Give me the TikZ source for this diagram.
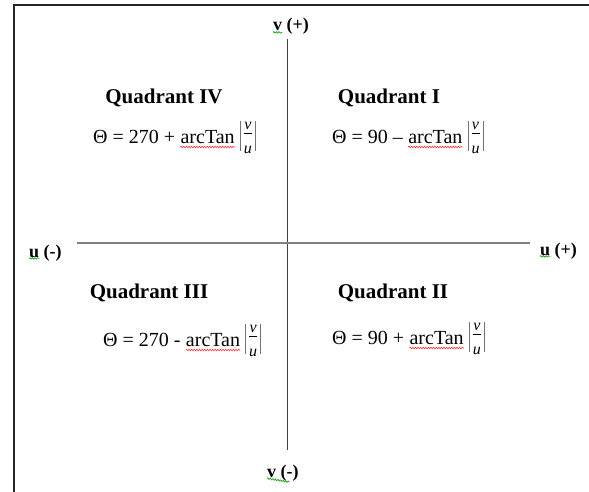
\documentclass[tikz,border=0pt]{standalone}
\usepackage{fontspec}
\setmainfont{Liberation Serif}
\usetikzlibrary{decorations.pathmorphing}
\newcommand{\fracbar}{{\color{black!55}\vrule width 0.7pt height 22pt depth 8pt}}
\newcommand{\vufrac}{\fracbar\kern3pt\raisebox{-10pt}{\fontsize{16}{16}\selectfont\itshape\vbox{\offinterlineskip\halign{\hfil##\hfil\cr v\cr\noalign{\kern3pt\hrule height0.6pt\kern12pt} u\cr}}}\kern3pt\fracbar}
\tikzset{
  head/.style={font=\fontsize{21}{24}\selectfont\bfseries, inner sep=0pt, anchor=base},
  formula/.style={font=\fontsize{20}{22}\selectfont, inner sep=0pt, anchor=base west},
  axlabel/.style={font=\fontsize{18}{20}\selectfont\bfseries, inner sep=0pt, anchor=base west},
  vaxis/.style={draw=black!75, line width=1pt},
  haxis/.style={draw=black!50, line width=1.5pt},
  frameline/.style={draw=black!85, line width=2pt},
  redsq/.style={draw=red!80, line width=0.6pt, decorate, decoration={snake, amplitude=0.8pt, segment length=2.6pt}},
  greensq/.style={draw=green!60!black, line width=0.6pt, decorate, decoration={snake, amplitude=0.8pt, segment length=2.6pt}}
}
\begin{document}
\begin{tikzpicture}[x=1pt,y=-1pt]
\useasboundingbox (0,0) rectangle (589,492);
% frame
\coordinate (fbl) at (14,492);
\coordinate (ftl) at (14,5);
\coordinate (ftr) at (589,5);
\draw[frameline] (fbl) -- (ftl) -- (ftr);
% axes
\coordinate (vt) at (287,39);
\coordinate (vb) at (287,450);
\coordinate (hl) at (77,243);
\coordinate (hr) at (530,243);
\draw[vaxis] (vt) -- (vb);
\draw[haxis] (hl) -- (hr);
% axis labels
\node[axlabel] (vp1) at (273,31) {v};
\node[axlabel, anchor=base west] (vp2) at ([xshift=4pt]vp1.base east) {(+)};
\draw[greensq] ([yshift=-1pt]vp1.south west) -- ([yshift=-1pt]vp1.south east);
\node[axlabel] (vm1) at (267,477) {v};
\node[axlabel, anchor=base west] (vm2) at ([xshift=4pt]vm1.base east) {(-)};
\draw[greensq] ([yshift=-1pt]vm1.south west) -- ([yshift=-1pt]vm2.south);
\node[axlabel] (um1) at (29,257) {u};
\node[axlabel, anchor=base west] (um2) at ([xshift=4pt]um1.base east) {(-)};
\draw[greensq] ([yshift=-1pt]um1.south west) -- ([yshift=-1pt]um1.south east);
\node[axlabel] (up1) at (540,255) {u};
\node[axlabel, anchor=base west] (up2) at ([xshift=4pt]up1.base east) {(+)};
\draw[greensq] ([yshift=-1pt]up1.south west) -- ([yshift=-1pt]up1.south east);
% headings
\node[head] (q4) at (164,104) {Quadrant IV};
\node[head] (q1) at (389,104) {Quadrant I};
\node[head] (q3) at (149,298) {Quadrant III};
\node[head] (q2) at (393,298) {Quadrant II};
% formulas
\node[formula] (f4a) at (93,143) {Θ = 270 +};
\node[formula] (f4b) at ([xshift=5pt]f4a.base east) {arcTan};
\node[formula] (f4c) at ([xshift=5pt]f4b.base east) {\vufrac};
\draw[redsq] ([yshift=-4pt]f4b.base west) -- ([yshift=-4pt]f4b.base east);
\node[formula] (f1a) at (332,143) {Θ = 90 –};
\node[formula] (f1b) at ([xshift=5pt]f1a.base east) {arcTan};
\node[formula] (f1c) at ([xshift=5pt]f1b.base east) {\vufrac};
\draw[redsq] ([yshift=-4pt]f1b.base west) -- ([yshift=-4pt]f1b.base east);
\node[formula] (f3a) at (103,346) {Θ = 270 -};
\node[formula] (f3b) at ([xshift=5pt]f3a.base east) {arcTan};
\node[formula] (f3c) at ([xshift=5pt]f3b.base east) {\vufrac};
\draw[redsq] ([yshift=-4pt]f3b.base west) -- ([yshift=-4pt]f3b.base east);
\node[formula] (f2a) at (332,344) {Θ = 90 +};
\node[formula] (f2b) at ([xshift=5pt]f2a.base east) {arcTan};
\node[formula] (f2c) at ([xshift=5pt]f2b.base east) {\vufrac};
\draw[redsq] ([yshift=-4pt]f2b.base west) -- ([yshift=-4pt]f2b.base east);
\end{tikzpicture}
\end{document}
